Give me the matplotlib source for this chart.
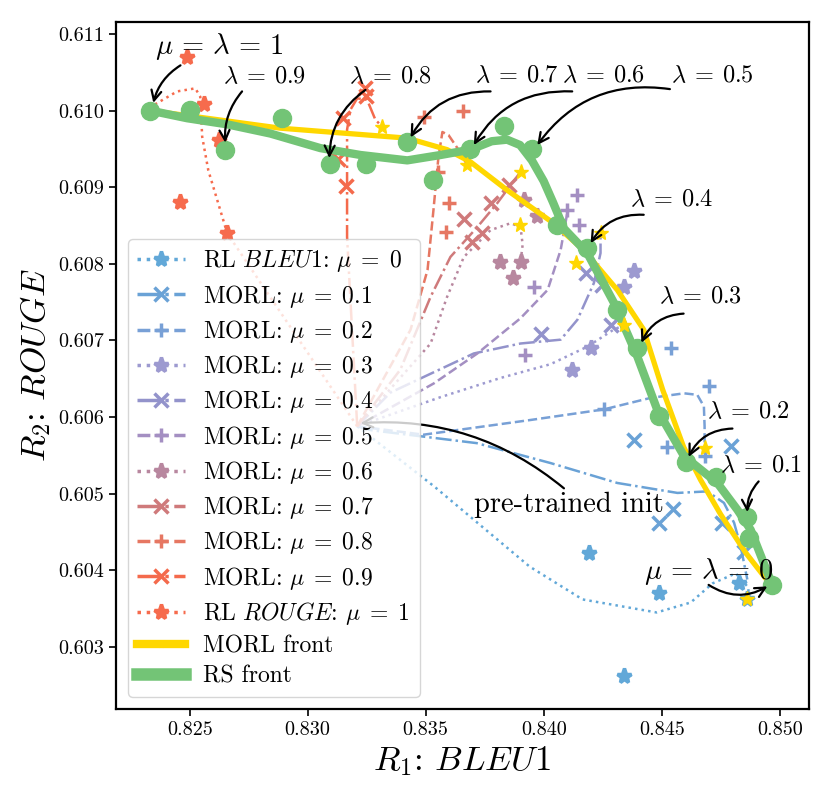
import matplotlib
matplotlib.use('Agg')
import matplotlib.pyplot as plt
from matplotlib.lines import Line2D
from matplotlib.ticker import FormatStrFormatter

plt.rcParams['font.family'] = 'serif'
plt.rcParams['font.serif'] = ['cmr10', 'DejaVu Serif']
plt.rcParams['mathtext.fontset'] = 'cm'
plt.rcParams['axes.formatter.use_mathtext'] = True

# pre-trained init (start of every MORL path)
init = (0.83210, 0.60588)

mus = [0, 0.1, 0.2, 0.3, 0.4, 0.5, 0.6, 0.7, 0.8, 0.9, 1]
labels = [r'RL $BLEU1$: $\mu\;=\;0$'] + [r'MORL: $\mu\;=\;%s$' % m for m in mus[1:-1]] + [r'RL $ROUGE$: $\mu\;=\;1$']
colors = ['#62a8d8', '#6aa2d6', '#78a0d6', '#9d9ad0', '#9393cb', '#a48fc2',
          '#b8879f', '#cf7a7b', '#e67762', '#f46a4c', '#f66b4d']
markers = ['*', 'x', '+', '*', 'x', '+', '*', 'x', '+', 'x', '*']
styles = [':', '-.', '--', ':', '-.', '--', ':', '-.', '--', '-.', ':']

# scattered runs for each mu
pts_00 = [(0.84340, 0.60262), (0.84192, 0.60422), (0.84489, 0.60371), (0.84828, 0.60383), (0.84863, 0.60362)]
pts_01 = [(0.84383, 0.60570), (0.84793, 0.60562), (0.84550, 0.60480), (0.84489, 0.60462), (0.84757, 0.60462), (0.84848, 0.60424)]
pts_02 = [(0.84701, 0.60640), (0.84255, 0.60610), (0.84521, 0.60561), (0.84541, 0.60690), (0.84682, 0.60549)]
pts_03 = [(0.84383, 0.60790), (0.84340, 0.60770), (0.84199, 0.60690), (0.84121, 0.60662)]
pts_04 = [(0.84178, 0.60788), (0.84249, 0.60772), (0.84284, 0.60720), (0.83987, 0.60709)]
pts_05 = [(0.84143, 0.60890), (0.84100, 0.60870), (0.84149, 0.60851), (0.83959, 0.60770), (0.83923, 0.60681)]
pts_06 = [(0.83817, 0.60802), (0.83902, 0.60802), (0.83870, 0.60781), (0.83916, 0.60883), (0.83970, 0.60862)]
pts_07 = [(0.83662, 0.60859), (0.83775, 0.60880), (0.83853, 0.60903), (0.83697, 0.60829), (0.83740, 0.60840)]
pts_08 = [(0.83492, 0.60991), (0.83658, 0.60999), (0.83552, 0.60920), (0.83598, 0.60880), (0.83586, 0.60841)]
pts_09 = [(0.83241, 0.61030), (0.83249, 0.61019), (0.83150, 0.60990), (0.83128, 0.60937), (0.83162, 0.60901)]
pts_10 = [(0.82489, 0.61070), (0.82559, 0.61009), (0.82626, 0.60962), (0.82461, 0.60881), (0.82659, 0.60840)]

# paths from init to the MORL model
path_00 = [init, (0.83538, 0.60509), (0.83940, 0.60405), (0.84165, 0.60362), (0.84479, 0.60345), (0.84623, 0.60358),
           (0.84716, 0.60383), (0.84814, 0.60396), (0.84869, 0.60377), (0.84863, 0.60362)]
path_01 = [init, (0.83266, 0.60583), (0.83716, 0.60566), (0.84029, 0.60540), (0.84312, 0.60514), (0.84567, 0.60501),
           (0.84694, 0.60503), (0.84764, 0.60488), (0.84807, 0.60462), (0.84835, 0.60431), (0.84863, 0.60388)]
path_02 = [init, (0.83491, 0.60577), (0.83940, 0.60596), (0.84255, 0.60610), (0.84453, 0.60625), (0.84595, 0.60631),
           (0.84651, 0.60629), (0.84679, 0.60614), (0.84682, 0.60588), (0.84682, 0.60560)]
path_03 = [init, (0.83563, 0.60626), (0.83817, 0.60651), (0.84029, 0.60669), (0.84186, 0.60692), (0.84296, 0.60714),
           (0.84340, 0.60720)]
path_04 = [init, (0.83351, 0.60632), (0.83704, 0.60683), (0.83902, 0.60696), (0.84072, 0.60701), (0.84143, 0.60727),
           (0.84213, 0.60775), (0.84241, 0.60814), (0.84241, 0.60840)]
path_05 = [init, (0.83535, 0.60644), (0.83719, 0.60683), (0.83902, 0.60729), (0.84017, 0.60766), (0.84072, 0.60818),
           (0.84101, 0.60868)]
path_06 = [init, (0.83521, 0.60696), (0.83591, 0.60757), (0.83662, 0.60809), (0.83775, 0.60844), (0.83860, 0.60853),
           (0.83902, 0.60848), (0.83911, 0.60825), (0.83902, 0.60802)]
path_07 = [init, (0.83393, 0.60662), (0.83521, 0.60757), (0.83605, 0.60809), (0.83719, 0.60848), (0.83803, 0.60879),
           (0.83902, 0.60920)]
path_08 = [init, (0.83436, 0.60714), (0.83508, 0.60792), (0.83533, 0.60870), (0.83554, 0.60939), (0.83571, 0.60972),
           (0.83597, 0.60968), (0.83639, 0.60949), (0.83676, 0.60929)]
path_09 = [init, (0.83167, 0.60835), (0.83167, 0.60901), (0.83167, 0.60975), (0.83181, 0.61001), (0.83210, 0.61016),
           (0.83252, 0.61014), (0.83287, 0.60988), (0.83316, 0.60979)]
path_10 = [init, (0.82659, 0.60840), (0.82579, 0.60922), (0.82553, 0.60966), (0.82545, 0.61018), (0.82524, 0.61029),
           (0.82447, 0.61025), (0.82347, 0.61007), (0.82333, 0.61000)]

all_pts = [pts_00, pts_01, pts_02, pts_03, pts_04, pts_05, pts_06, pts_07, pts_08, pts_09, pts_10]
all_paths = [path_00, path_01, path_02, path_03, path_04, path_05, path_06, path_07, path_08, path_09, path_10]

# MORL front
morl_front_x = [0.82333, 0.82885, 0.83422, 0.83591, 0.83690, 0.83846, 0.84042, 0.84169, 0.84312, 0.84424,
                0.84504, 0.84593, 0.84665, 0.84750, 0.84856, 0.84962]
morl_front_y = [0.61000, 0.60977, 0.60964, 0.60949, 0.60933, 0.60896, 0.60853, 0.60818, 0.60766, 0.60714,
                0.60636, 0.60561, 0.60518, 0.60473, 0.60423, 0.60381]
morl_star_x = [0.83316, 0.83676, 0.83902, 0.83899, 0.84241, 0.84135, 0.84340, 0.84682, 0.84863]
morl_star_y = [0.60979, 0.60929, 0.60920, 0.60851, 0.60840, 0.60801, 0.60720, 0.60560, 0.60362]

# rewarded soups: lambda = 1, 0.95, ..., 0
rs_x = [0.82333, 0.82502, 0.82651, 0.82892, 0.83094, 0.83249, 0.83422, 0.83532, 0.83690, 0.83831, 0.83952,
        0.84058, 0.84185, 0.84312, 0.84397, 0.84489, 0.84602, 0.84732, 0.84863, 0.84870, 0.84969]
rs_y = [0.61000, 0.61001, 0.60949, 0.60990, 0.60930, 0.60930, 0.60959, 0.60909, 0.60950, 0.60980, 0.60950,
        0.60851, 0.60820, 0.60740, 0.60690, 0.60601, 0.60541, 0.60522, 0.60470, 0.60442, 0.60381]
rs_curve_x = [0.82333, 0.82489, 0.82659, 0.82842, 0.83054, 0.83224, 0.83422, 0.83563, 0.83690, 0.83780, 0.83845,
              0.83900, 0.83950, 0.84000, 0.84040, 0.84086, 0.84185, 0.84298, 0.84397, 0.84482, 0.84595, 0.84736,
              0.84821, 0.84877, 0.84969]
rs_curve_y = [0.61000, 0.60990, 0.60982, 0.60970, 0.60951, 0.60942, 0.60935, 0.60942, 0.60949, 0.60960, 0.60962,
              0.60955, 0.60935, 0.60908, 0.60880, 0.60846, 0.60814, 0.60749, 0.60679, 0.60609, 0.60549, 0.60514,
              0.60479, 0.60453, 0.60381]

# annotations: text, text centre, arrow start, arrow end, size, rad
notes = [
    (r'$\mu\,=\,\lambda\,=\,1$', (0.82627, 0.61083), (0.82461, 0.61059), (0.82346, 0.61010), 20.5, 0.2),
    (r'$\lambda\:=\:0.9$', (0.82818, 0.61044), (0.82722, 0.61025), (0.82651, 0.60958), 17.5, 0.2),
    (r'$\lambda\:=\:0.8$', (0.83353, 0.61044), (0.83245, 0.61027), (0.83092, 0.60938), 17.5, 0.25),
    (r'$\lambda\:=\:0.7$', (0.83887, 0.61045), (0.83775, 0.61025), (0.83436, 0.60965), 17.5, 0.3),
    (r'$\lambda\:=\:0.6$', (0.84254, 0.61045), (0.84121, 0.61025), (0.83704, 0.60955), 17.5, 0.3),
    (r'$\lambda\:=\:0.5$', (0.84714, 0.61045), (0.84535, 0.61028), (0.83973, 0.60955), 17.5, 0.3),
    (r'$\lambda\:=\:0.4$', (0.84544, 0.60883), (0.84424, 0.60864), (0.84199, 0.60827), 17.5, 0.3),
    (r'$\lambda\:=\:0.3$', (0.84665, 0.60756), (0.84593, 0.60735), (0.84414, 0.60697), 17.5, 0.3),
    (r'$\lambda\:=\:0.2$', (0.84867, 0.60606), (0.84800, 0.60585), (0.84614, 0.60548), 17.5, 0.3),
    (r'$\lambda\:=\:0.1$', (0.84922, 0.60536), (0.84911, 0.60516), (0.84863, 0.60476), 17.5, 0.2),
    (r'$\mu\,=\,\lambda\,=\,0$', (0.84701, 0.60399), (0.84699, 0.60381), (0.84948, 0.60379), 20.5, 0.3),
    ('pre-trained init', (0.84107, 0.60486), (0.84086, 0.60507), (0.83224, 0.60592), 20.5, 0.2),
]

fig = plt.figure(figsize=(8.3, 7.97), dpi=100)
ax = fig.add_axes([0.1398, 0.1104, 0.8345, 0.8624])

handles = []
for i in range(len(mus)):
    px = [p[0] for p in all_paths[i]]
    py = [p[1] for p in all_paths[i]]
    ax.plot(px, py, ls=styles[i], color=colors[i], lw=1.8, zorder=2)
    sx = [p[0] for p in all_pts[i]]
    sy = [p[1] for p in all_pts[i]]
    ms = 11 if markers[i] == '*' else 10
    ax.plot(sx, sy, ls='none', marker=markers[i], color=colors[i], ms=ms, mew=2.5, zorder=2.2)
    handles.append(Line2D([], [], ls=styles[i], color=colors[i], lw=2.5, marker=markers[i],
                          ms=ms, mew=2.5, label=labels[i]))

ax.plot(morl_front_x, morl_front_y, color='#ffd700', lw=3.8, zorder=3)
ax.plot(rs_curve_x, rs_curve_y, color='#73c476', lw=6, zorder=3.5)
ax.plot(rs_x, rs_y, ls='none', marker='o', color='#73c476', ms=13, zorder=3.8)
ax.plot(morl_star_x, morl_star_y, ls='none', marker='*', color='#ffd700', ms=11, zorder=4)
handles.append(Line2D([], [], color='#ffd700', lw=6, marker='*', ms=6, label='MORL front'))
handles.append(Line2D([], [], color='#73c476', lw=9, marker='o', ms=6, label='RS front'))

for txt, c, start, end, fs, rad in notes:
    ax.text(c[0], c[1], txt, fontsize=fs, ha='center', va='center', zorder=4.5)
    ax.annotate('', xy=end, xytext=start,
                arrowprops=dict(arrowstyle='->', color='k', lw=1.6, mutation_scale=18,
                                shrinkA=0, shrinkB=0, connectionstyle='arc3,rad=%s' % rad),
                zorder=4.5)

ax.set_xlim(0.82188, 0.85123)
ax.set_ylim(0.60219, 0.61116)
ax.set_xticks([0.825, 0.830, 0.835, 0.840, 0.845, 0.850])
ax.set_yticks([0.603, 0.604, 0.605, 0.606, 0.607, 0.608, 0.609, 0.610, 0.611])
ax.xaxis.set_major_formatter(FormatStrFormatter('%.3f'))
ax.yaxis.set_major_formatter(FormatStrFormatter('%.3f'))
ax.tick_params(labelsize=14.5, length=5, width=1.2)
for s in ax.spines.values():
    s.set_linewidth(1.6)
ax.set_xlabel(r'$R_1$: $BLEU1$', fontsize=25)
ax.set_ylabel(r'$R_2$: $ROUGE$', fontsize=25)

ax.legend(handles=handles, loc='lower left', fontsize=17, labelspacing=0.35)

fig.savefig('out.png', dpi=100)
